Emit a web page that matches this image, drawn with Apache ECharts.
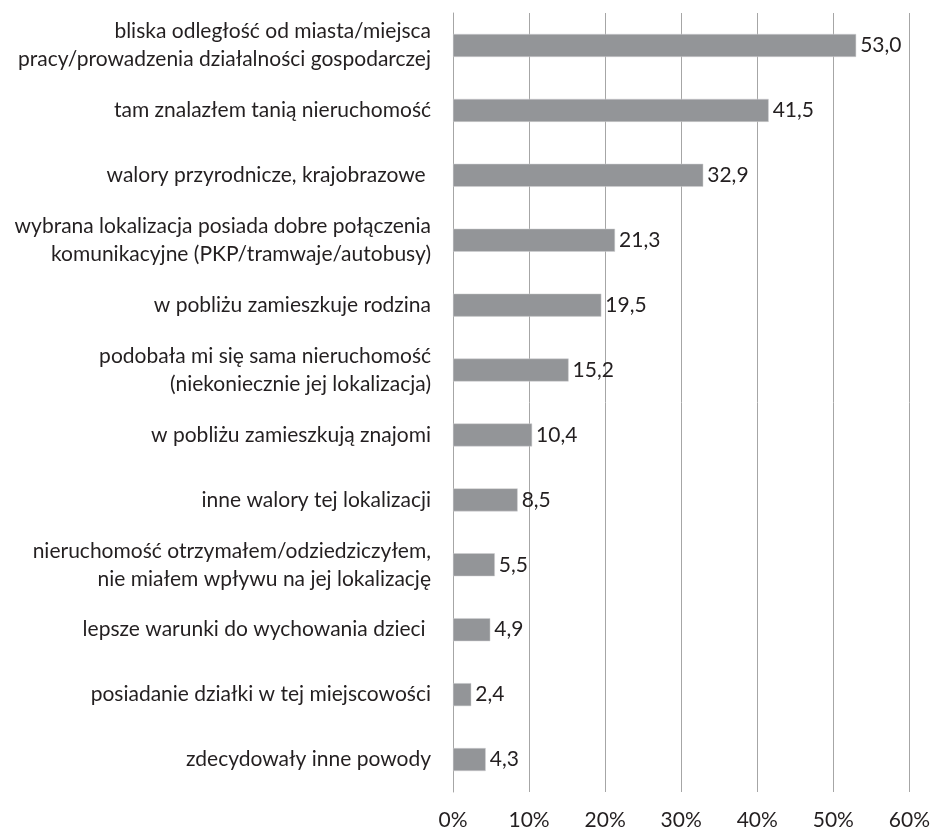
<!DOCTYPE html>
<html><head><meta charset="utf-8">
<script src="https://cdn.jsdelivr.net/npm/echarts@6/dist/echarts.min.js"></script>
<style>html,body{margin:0;padding:0;background:#fff}#c{width:933px;height:831px}</style>
</head><body><div id="c"></div>
<script>
const categories = [
  "bliska odległość od miasta/miejsca\npracy/prowadzenia działalności gospodarczej",
  "tam znalazłem tanią nieruchomość",
  "walory przyrodnicze, krajobrazowe ",
  "wybrana lokalizacja posiada dobre połączenia\nkomunikacyjne (PKP/tramwaje/autobusy)",
  "w pobliżu zamieszkuje rodzina",
  "podobała mi się sama nieruchomość\n(niekoniecznie jej lokalizacja)",
  "w pobliżu zamieszkują znajomi",
  "inne walory tej lokalizacji",
  "nieruchomość otrzymałem/odziedziczyłem,\nnie miałem wpływu na jej lokalizację",
  "lepsze warunki do wychowania dzieci ",
  "posiadanie działki w tej miejscowości",
  "zdecydowały inne powody"
];
const values = [53.0, 41.5, 32.9, 21.3, 19.5, 15.2, 10.4, 8.5, 5.5, 4.9, 2.4, 4.3];
const xTicks = [0, 10, 20, 30, 40, 50, 60];

const FONT = "Lato";
const chart = echarts.init(document.getElementById('c'), null, {renderer: 'canvas'});
chart.setOption({
  animation: false,
  backgroundColor: '#ffffff',
  grid: {left: 453, right: 23, top: 13, bottom: 37.5, containLabel: false},
  xAxis: {
    type: 'value', min: xTicks[0], max: xTicks[xTicks.length - 1], interval: 10,
    axisLine: {show: false}, axisTick: {show: false},
    splitLine: {show: true, lineStyle: {color: '#a6a6a6', width: 1}},
    axisLabel: {formatter: v => v + '%', color: '#231f20', fontFamily: FONT, fontSize: 21, margin: 18}
  },
  yAxis: {
    type: 'category', data: categories, inverse: true,
    axisLine: {show: true, lineStyle: {color: '#a6a6a6', width: 1}},
    axisTick: {show: false},
    axisLabel: {color: '#231f20', fontFamily: FONT, fontSize: 21, margin: 22, align: 'right', lineHeight: 28}
  },
  series: [{
    type: 'bar', data: values, barWidth: 23,
    itemStyle: {color: '#939598', borderColor: '#d0d0d2', borderWidth: 0.5},
    label: {show: true, position: 'right', distance: 4, color: '#231f20', fontFamily: FONT, fontSize: 21,
      formatter: p => p.value.toFixed(1).replace('.', ',')}
  }]
});
</script></body></html>
